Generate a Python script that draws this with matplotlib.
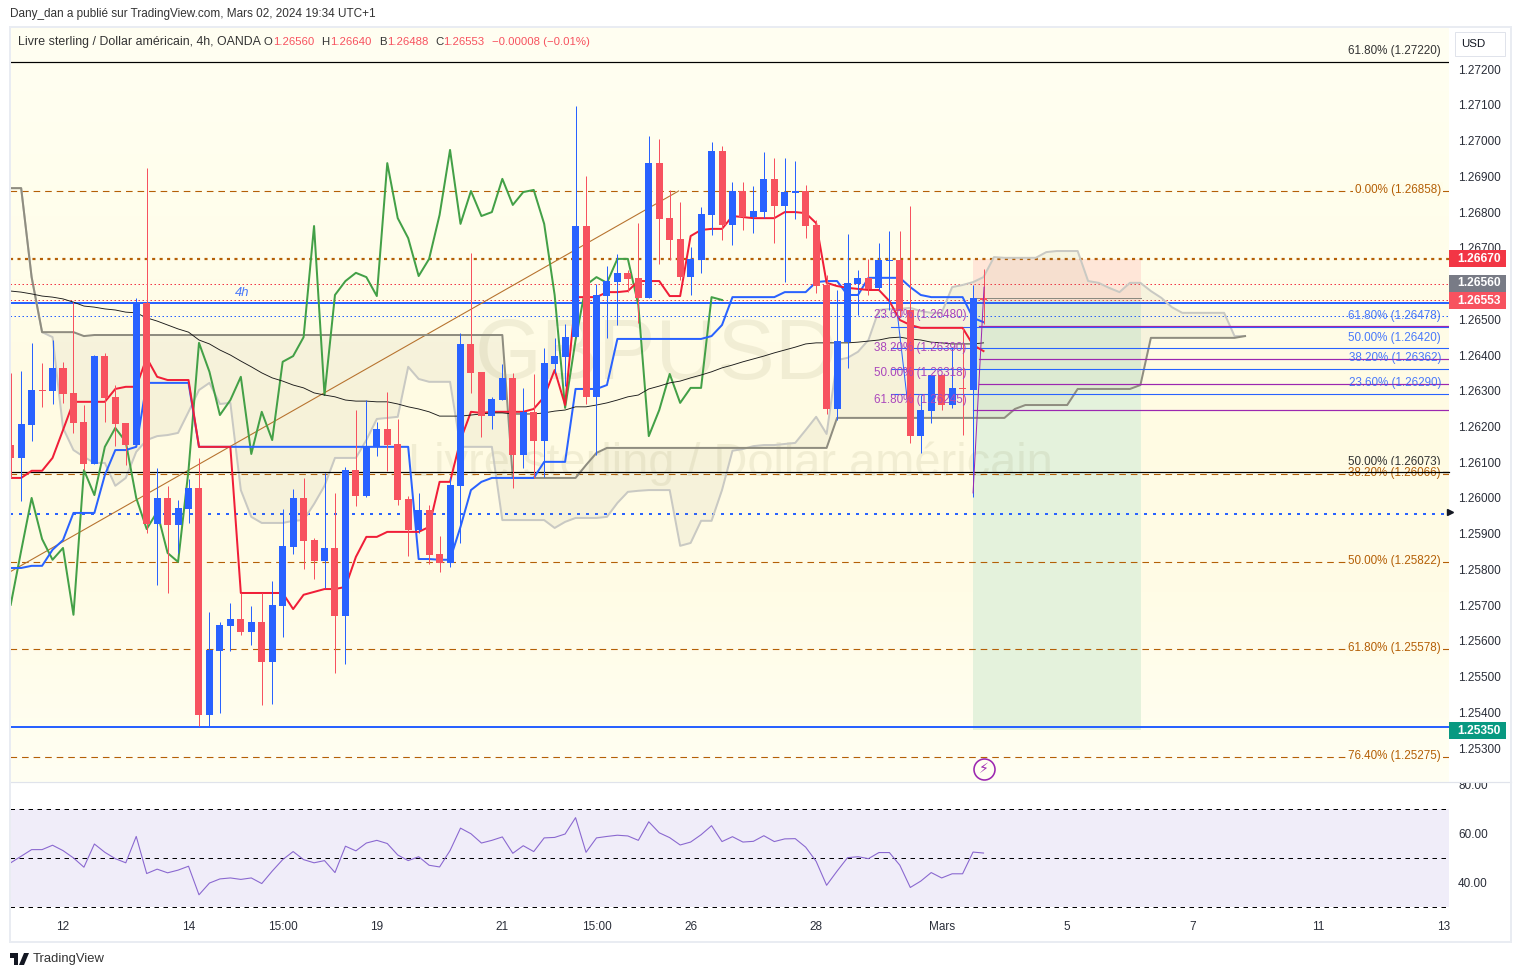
import numpy as np
import matplotlib
matplotlib.use('Agg')
import matplotlib.pyplot as plt
from matplotlib.patches import Rectangle, FancyBboxPatch, Polygon
from matplotlib.colors import LinearSegmentedColormap

plt.rcParams['font.family'] = ['Liberation Sans', 'DejaVu Sans']

#candles, 4h bars
opens = [1.26148, 1.26112, 1.26204, 1.26302, 1.26299, 1.26364, 1.26294, 1.26213, 1.26095, 1.26397,
         1.26283, 1.26210, 1.26148, 1.26546, 1.25927, 1.26000, 1.25924, 1.25969, 1.26028, 1.25393,
         1.25572, 1.25642, 1.25661, 1.25625, 1.25653, 1.25541, 1.25698, 1.25863, 1.26000, 1.25882,
         1.25824, 1.25860, 1.25670, 1.26078, 1.26006, 1.26143, 1.26193, 1.26151, 1.25997, 1.25910,
         1.25966, 1.25843, 1.25818, 1.26034, 1.26431, 1.26353, 1.26229, 1.26274, 1.26336, 1.26120,
         1.26241, 1.26159, 1.26375, 1.26395, 1.26450, 1.26761, 1.26283, 1.26565, 1.26604, 1.26630,
         1.26616, 1.26560, 1.26937, 1.26783, 1.26725, 1.26618, 1.26666, 1.26792, 1.26971, 1.26764,
         1.26859, 1.26786, 1.26800, 1.26893, 1.26817, 1.26853, 1.26859, 1.26764, 1.26596, 1.26249,
         1.26436, 1.26599, 1.26616, 1.26588, 1.26663, 1.26666, 1.26526, 1.26173, 1.26243, 1.26344,
         1.26260, 1.26308, 1.26302, 1.26560]
highs = [1.26350, 1.26355, 1.26434, 1.26378, 1.26442, 1.26381, 1.26548, 1.26260, 1.26400, 1.26406,
         1.26316, 1.26210, 1.26560, 1.26923, 1.26084, 1.26034, 1.25994, 1.26053, 1.26112, 1.25681,
         1.25653, 1.25706, 1.25734, 1.25698, 1.25734, 1.25768, 1.25969, 1.26025, 1.26056, 1.25888,
         1.26070, 1.26014, 1.26087, 1.26246, 1.26274, 1.26213, 1.26297, 1.26221, 1.26006, 1.26014,
         1.25980, 1.25894, 1.26059, 1.26462, 1.26686, 1.26353, 1.26283, 1.26375, 1.26350, 1.26308,
         1.26347, 1.26420, 1.26448, 1.26487, 1.27097, 1.26901, 1.26599, 1.26649, 1.26683, 1.26638,
         1.26769, 1.27013, 1.27004, 1.26862, 1.26828, 1.26702, 1.26814, 1.26996, 1.26985, 1.26884,
         1.26884, 1.26873, 1.26968, 1.26951, 1.26951, 1.26943, 1.26876, 1.26778, 1.26624, 1.26582,
         1.26739, 1.26638, 1.26669, 1.26713, 1.26747, 1.26747, 1.26817, 1.26288, 1.26344, 1.26344,
         1.26422, 1.26476, 1.26596, 1.26640]
lows = [1.26056, 1.25992, 1.26159, 1.26255, 1.26263, 1.26266, 1.26182, 1.26078, 1.26095, 1.26213,
        1.26145, 1.26092, 1.26148, 1.25902, 1.25757, 1.25734, 1.25846, 1.25930, 1.25362, 1.25362,
        1.25398, 1.25572, 1.25617, 1.25589, 1.25421, 1.25424, 1.25611, 1.25843, 1.25801, 1.25773,
        1.25748, 1.25510, 1.25536, 1.25978, 1.26003, 1.26118, 1.26076, 1.25980, 1.25838, 1.25902,
        1.25815, 1.25793, 1.25807, 1.25874, 1.26294, 1.26171, 1.26193, 1.26274, 1.26028, 1.26084,
        1.26056, 1.26059, 1.26350, 1.26313, 1.26450, 1.26263, 1.26120, 1.26448, 1.26484, 1.26576,
        1.26490, 1.26560, 1.26655, 1.26666, 1.26610, 1.26568, 1.26630, 1.26736, 1.26722, 1.26708,
        1.26750, 1.26741, 1.26783, 1.26713, 1.26604, 1.26781, 1.26727, 1.26574, 1.26235, 1.26218,
        1.26364, 1.26512, 1.26568, 1.26582, 1.26526, 1.26506, 1.26154, 1.26126, 1.26210, 1.26246,
        1.26252, 1.26176, 1.26003, 1.26488]
closes = [1.26112, 1.26207, 1.26302, 1.26299, 1.26364, 1.26291, 1.26210, 1.26095, 1.26397, 1.26280,
          1.26207, 1.26148, 1.26546, 1.25927, 1.26000, 1.25924, 1.25972, 1.26028, 1.25393, 1.25575,
          1.25645, 1.25661, 1.25625, 1.25653, 1.25541, 1.25701, 1.25866, 1.26000, 1.25880, 1.25824,
          1.25860, 1.25670, 1.26078, 1.26006, 1.26143, 1.26193, 1.26148, 1.25994, 1.25910, 1.25966,
          1.25841, 1.25818, 1.26036, 1.26431, 1.26350, 1.26229, 1.26277, 1.26336, 1.26120, 1.26241,
          1.26159, 1.26378, 1.26397, 1.26450, 1.26761, 1.26283, 1.26568, 1.26607, 1.26630, 1.26613,
          1.26560, 1.26937, 1.26781, 1.26722, 1.26618, 1.26669, 1.26795, 1.26971, 1.26764, 1.26859,
          1.26786, 1.26803, 1.26893, 1.26817, 1.26856, 1.26859, 1.26761, 1.26593, 1.26249, 1.26439,
          1.26602, 1.26616, 1.26585, 1.26666, 1.26666, 1.26523, 1.26173, 1.26246, 1.26344, 1.26260,
          1.26308, 1.26305, 1.26560, 1.26553]

#ichimoku lines
tenkan = [1.26056, 1.26056, 1.26076, 1.26076, 1.26112, 1.26190, 1.26269, 1.26269, 1.26269, 1.26269,
          1.26305, 1.26311, 1.26311, 1.26392, 1.26339, 1.26330, 1.26330, 1.26330, 1.26143, 1.26143,
          1.26143, 1.26143, 1.25734, 1.25734, 1.25734, 1.25734, 1.25734, 1.25689, 1.25729, 1.25737,
          1.25745, 1.25745, 1.25751, 1.25835, 1.25891, 1.25891, 1.25905, 1.25905, 1.25905, 1.25905,
          1.25919, 1.26045, 1.26045, 1.26162, 1.26241, 1.26238, 1.26241, 1.26241, 1.26241, 1.26241,
          1.26249, 1.26283, 1.26358, 1.26260, 1.26562, 1.26562, 1.26562, 1.26576, 1.26576, 1.26579,
          1.26607, 1.26607, 1.26607, 1.26565, 1.26565, 1.26733, 1.26750, 1.26753, 1.26753, 1.26789,
          1.26786, 1.26783, 1.26783, 1.26783, 1.26800, 1.26800, 1.26797, 1.26769, 1.26602, 1.26593,
          1.26588, 1.26585, 1.26582, 1.26582, 1.26551, 1.26498, 1.26484, 1.26476, 1.26476, 1.26476,
          1.26476, 1.26476, 1.26428, 1.26411]
kijun = [1.25804, 1.25804, 1.25810, 1.25810, 1.25855, 1.25882, 1.25958, 1.25958, 1.25958, 1.26064,
         1.26134, 1.26134, 1.26143, 1.26322, 1.26322, 1.26322, 1.26322, 1.26322] + [1.26143] * 21 + \
        [1.25829, 1.25829, 1.25827, 1.25827, 1.25919, 1.26022, 1.26045, 1.26056, 1.26056, 1.26056,
         1.26056, 1.26056, 1.26101, 1.26101, 1.26101, 1.26305, 1.26305, 1.26305, 1.26316] + [1.26445] * 9 + \
        [1.26453, 1.26484, 1.26562, 1.26562, 1.26562, 1.26562, 1.26562, 1.26576, 1.26576, 1.26576,
         1.26604, 1.26607, 1.26607, 1.26568, 1.26568, 1.26616, 1.26616, 1.26616, 1.26616, 1.26590,
         1.26568, 1.26562, 1.26562, 1.26562, 1.26562, 1.26504, 1.26492]
chikou = [1.25701, 1.25852, 1.26000, 1.25885, 1.25827, 1.25860, 1.25673, 1.26078, 1.26008, 1.26143,
          1.26196, 1.26157, 1.26000, 1.25913, 1.25961, 1.25846, 1.25821, 1.26078, 1.26434, 1.26353,
          1.26232, 1.26274, 1.26339, 1.26123, 1.26241, 1.26162, 1.26381, 1.26397, 1.26450, 1.26761,
          1.26288, 1.26568, 1.26607, 1.26630, 1.26618, 1.26565, 1.26937, 1.26783, 1.26727, 1.26621,
          1.26669, 1.26792, 1.26974, 1.26767, 1.26859, 1.26789, 1.26800, 1.26893, 1.26820, 1.26856,
          1.26862, 1.26767, 1.26568, 1.26252, 1.26442, 1.26596, 1.26618, 1.26602, 1.26669, 1.26669,
          1.26540, 1.26173, 1.26246, 1.26347, 1.26266, 1.26308, 1.26308, 1.26562, 1.26554]
span_b = [1.26867, 1.26867, 1.26618, 1.26464, 1.26464, 1.26464, 1.26464, 1.26453] + [1.26456] * 40 + \
         [1.26056] * 7 + [1.26092, 1.26126] + [1.26140] * 22 + [1.26224] * 17 + [1.26249] + \
         [1.26260] * 5 + [1.26305] * 6 + [1.26316] + [1.26448] * 9 + [1.26453]
span_a = [1.26867, 1.26867, 1.26618, 1.26464, 1.26450, 1.26196, 1.26134, 1.26115, 1.26098, 1.26098,
          1.26034, 1.26056, 1.26129, 1.26162, 1.26173, 1.26176, 1.26182, 1.26241, 1.26302, 1.26322,
          1.26263, 1.26266, 1.26022, 1.25947, 1.25930, 1.25930, 1.25930, 1.25936, 1.25938, 1.25983,
          1.26034, 1.26112, 1.26112, 1.26112, 1.26162, 1.26221, 1.26224, 1.26227, 1.26367, 1.26333,
          1.26325, 1.26325, 1.26325, 1.26143, 1.26143, 1.26143, 1.26143, 1.25938, 1.25938, 1.25938,
          1.25938, 1.25938, 1.25916, 1.25933, 1.25944, 1.25944, 1.25944, 1.25947, 1.25986, 1.26017,
          1.26020, 1.26022, 1.26022, 1.26022, 1.25866, 1.25874, 1.25936, 1.25936, 1.26022, 1.26132,
          1.26137, 1.26145, 1.26148, 1.26148, 1.26151, 1.26154, 1.26190, 1.26227, 1.26179, 1.26386,
          1.26392, 1.26409, 1.26442, 1.26526, 1.26529, 1.26529, 1.26532, 1.26523, 1.26518, 1.26518,
          1.26590, 1.26596, 1.26604, 1.26618, 1.26674, 1.26672, 1.26672, 1.26672, 1.26672, 1.26688,
          1.26691, 1.26691, 1.26691, 1.26607, 1.26602, 1.26588, 1.26576, 1.26602, 1.26602, 1.26579,
          1.26560, 1.26534, 1.26518, 1.26518, 1.26518, 1.26518, 1.26518, 1.26453, 1.26453]

#moving average
ema = [1.26579, 1.26576, 1.26571, 1.26565, 1.26562, 1.26557, 1.26548, 1.26537, 1.26534, 1.26529,
       1.26526, 1.26520, 1.26518, 1.26504, 1.26495, 1.26484, 1.26473, 1.26464, 1.26442, 1.26431,
       1.26414, 1.26400, 1.26383, 1.26367, 1.26350, 1.26336, 1.26327, 1.26316, 1.26308, 1.26294,
       1.26288, 1.26283, 1.26274, 1.26271, 1.26271, 1.26269, 1.26269, 1.26263, 1.26255, 1.26249,
       1.26241, 1.26229, 1.26229, 1.26229, 1.26232, 1.26235, 1.26238, 1.26238, 1.26235, 1.26235,
       1.26235, 1.26238, 1.26243, 1.26246, 1.26255, 1.26255, 1.26260, 1.26266, 1.26274, 1.26283,
       1.26288, 1.26305, 1.26313, 1.26322, 1.26327, 1.26336, 1.26344, 1.26353, 1.26364, 1.26372,
       1.26381, 1.26389, 1.26397, 1.26406, 1.26414, 1.26422, 1.26431, 1.26434, 1.26434, 1.26434,
       1.26434, 1.26436, 1.26439, 1.26442, 1.26448, 1.26450, 1.26445, 1.26442, 1.26436, 1.26434,
       1.26431, 1.26431, 1.26431, 1.26434]

rsi = [48.0, 50.7, 53.4, 53.4, 55.2, 53.0, 50.0, 46.2, 55.7, 52.3, 49.7, 48.0, 58.8, 43.6, 45.4, 43.9,
       45.0, 46.6, 34.9, 39.7, 41.4, 41.8, 41.2, 41.8, 39.5, 44.6, 49.3, 52.6, 49.3, 48.0, 48.9, 44.0,
       54.8, 52.9, 56.1, 57.2, 55.9, 51.2, 48.9, 50.5, 47.0, 46.3, 53.0, 62.2, 59.9, 56.1, 57.2, 58.6,
       51.9, 55.0, 52.6, 58.2, 58.4, 59.8, 66.5, 52.3, 58.2, 58.8, 59.3, 59.0, 57.2, 64.8, 60.3, 58.3,
       55.3, 56.5, 59.5, 63.2, 56.7, 58.7, 56.5, 56.8, 59.1, 56.7, 57.8, 57.9, 54.4, 48.6, 38.8, 44.6,
       50.1, 50.5, 49.7, 52.2, 52.2, 47.0, 37.9, 40.5, 44.0, 41.8, 43.5, 43.5, 52.4, 52.0]

#axis labels
time_ticks = [5, 17, 26, 35, 47, 56, 65, 77, 89, 101, 113, 125, 137]
time_labels = ['12', '14', '15:00', '19', '21', '15:00', '26', '28', 'Mars', '5', '7', '11', '13']
price_ticks = [1.253, 1.254, 1.255, 1.256, 1.257, 1.258, 1.259, 1.260, 1.261, 1.262,
               1.263, 1.264, 1.265, 1.266, 1.267, 1.268, 1.269, 1.270, 1.271, 1.272]
rsi_ticks = [40, 60, 80]

#fibonacci levels and drawings
fib_blue = [1.26478, 1.26420, 1.26362, 1.26290]
fib_blue_labels = ['61.80% (1.26478)', '50.00% (1.26420)', '38.20% (1.26362)', '23.60% (1.26290)']
fib_purple = [1.26480, 1.26390, 1.26318, 1.26245]
fib_purple_labels = ['23.60% (1.26480)', '38.20% (1.26390)', '50.00% (1.26318)', '61.80% (1.26245)']
fib_orange = [1.26858, 1.26066, 1.25822, 1.25578, 1.25275]
fib_orange_labels = ['0.00% (1.26858)', '38.20% (1.26066)', '50.00% (1.25822)',
                     '61.80% (1.25578)', '76.40% (1.25275)']
fib_black = [1.27220, 1.26073]
fib_black_labels = ['61.80% (1.27220)', '50.00% (1.26073)']
trend_x = [-0.07, 63.85]
trend_y = [1.25793, 1.26859]
stop_price = 1.26670
entry_price = 1.26553
target_price = 1.25351
last_open = 1.26560

W, H = 1521, 977
BLUE = '#2962FF'
RED = '#F7525F'
LINE_RED = '#F01E38'
ORANGE = '#B45F06'
PURPLE = '#9C27B0'
px = 0.72  #one pixel in points
x_left, x_right = -0.067, 137.5


def fx(x):
    return x / W


def fy(y):
    return 1 - y / H


def add_axes(left, top, right, bottom):
    return fig.add_axes([fx(left), fy(bottom), (right - left) / W, (bottom - top) / H])


fig = plt.figure(figsize=(W / 100, H / 100), dpi=100, facecolor='white')

#main pane
ax = add_axes(10, 27, 1449, 782)
ax.set_xlim(x_left, x_right)
ax.set_ylim(1.25205, 1.27318)
for s in ax.spines.values():
    s.set_visible(False)

bg = LinearSegmentedColormap.from_list('bg', ['#FFFFF2', '#FFFEEC', '#FFFBE3', '#FFFCE6', '#FFFFF3'])
ax.imshow(np.linspace(0, 1, 256).reshape(-1, 1), cmap=bg, aspect='auto', zorder=0,
          extent=[x_left, x_right, 1.25205, 1.27318], origin='upper')

#risk reward box
ax.add_patch(Rectangle((92.0, entry_price), 16.05, stop_price - entry_price, fc='#FFE6D8', ec='none', zorder=1))
ax.add_patch(Rectangle((92.0, target_price), 16.05, entry_price - target_price, fc='#E4F2DC', ec='none', zorder=1))
ax.plot([92.0, 108.05], [last_open, last_open], color='#8A8A80', lw=1 * px, zorder=2.6)

#watermark, shows through the box
ax.text(61.7, 1.26395, 'GBPUSD', fontsize=86 * px, color='#6E6A30', alpha=0.09, ha='center', va='center', zorder=1.5)
ax.text(68.8, 1.26095, 'Livre sterling / Dollar américain', fontsize=47 * px, color='#6E6A30', alpha=0.09,
        ha='center', va='center', zorder=1.5)

#horizontal levels
ax.axhline(1.26670, color=ORANGE, lw=2.2 * px, ls=(0, (1.4, 2.0)), zorder=2)
ax.axhline(1.26599, color='#F23645', lw=1 * px, ls=(0, (1.5, 2.5)), zorder=2)
ax.axhline(entry_price, color='#F23645', lw=1 * px, ls=(0, (1.5, 2.5)), zorder=2)
ax.axhline(1.26546, color=BLUE, lw=2 * px, zorder=2)
ax.axhline(1.26509, color=BLUE, lw=1 * px, ls=(0, (1.5, 2.5)), zorder=2)
ax.axhline(1.25954, color=BLUE, lw=2 * px, ls=(0, (1.5, 3.0)), zorder=2)
ax.axhline(1.25359, color=BLUE, lw=2 * px, zorder=2)
for level in fib_orange:
    ax.axhline(level, color=ORANGE, lw=1.1 * px, ls=(0, (6, 4.5)), zorder=2)

ax.plot(trend_x, trend_y, color='#B7732F', lw=1.1 * px, zorder=2.5)

#cloud
xc = np.arange(len(span_a))
ax.fill_between(xc, span_a, span_b, color='#8A8A60', alpha=0.075, lw=0, zorder=2.2)
ax.plot(xc, span_a, color='#C9C9C3', lw=2 * px, zorder=2.4)
ax.plot(xc, span_b, color='#8F8D80', lw=2 * px, zorder=2.5)

#indicator lines
ax.plot(np.arange(len(chikou)), chikou, color='#43A047', lw=2 * px, zorder=3)
ax.plot(np.arange(len(kijun)), kijun, color=BLUE, lw=2 * px, zorder=3.1)
ax.plot(np.arange(len(tenkan)), tenkan, color=LINE_RED, lw=2 * px, zorder=3.2)
ax.plot(np.arange(len(ema)), ema, color='#1A1A1A', lw=0.9 * px, zorder=3.3)

#fib drawings
for level in fib_blue:
    ax.plot([84.2, x_right], [level, level], color=BLUE, lw=1.1 * px, zorder=2.7)
for i, level in enumerate(fib_purple):
    start = 92.0 if i == 3 else 92.6
    ax.plot([start, x_right], [level, level], color=PURPLE, lw=1.2 * px, zorder=2.8)
ax.plot([84.8, 85.9], [1.26506, 1.26227], color=BLUE, lw=1 * px, zorder=3.4)

#candles
for i in range(len(opens)):
    col = BLUE if closes[i] > opens[i] else RED
    ax.vlines(i, lows[i], highs[i], color=col, lw=1 * px, zorder=4)
    bottom = min(opens[i], closes[i])
    height = max(abs(closes[i] - opens[i]), 0.00004)
    ax.bar(i, height, bottom=bottom, width=0.67, color=col, lw=0, zorder=4.1)

ax.plot([92.0, 93.05], [1.26014, 1.26590], color=PURPLE, lw=1 * px, zorder=4.5)

#labels on the levels
blue_y = [316, 338, 358, 383]
for lab, y in zip(fib_blue_labels, blue_y):
    fig.text(fx(1441), fy(y), lab, color=BLUE, fontsize=11.6 * px, ha='right', va='center', alpha=0.85, zorder=2)
purple_y = [315, 348, 373, 400]
for lab, y in zip(fib_purple_labels, purple_y):
    fig.text(fx(874), fy(y), lab, color='#AB47BC', fontsize=11.6 * px, ha='left', va='center', zorder=2)
black_y = [51, 462]
for lab, y in zip(fib_black_labels, black_y):
    fig.text(fx(1441), fy(y), lab, color='#333333', fontsize=11.6 * px, ha='right', va='center', zorder=2)
orange_y = [190, 473, 561, 648, 756]
orange_bg = ['#FFFDE9', '#FFFBE4', '#FFFBE5', '#FFFCE7', '#FFFEF0']
for lab, y, b in zip(fib_orange_labels, orange_y, orange_bg):
    fig.text(fx(1441), fy(y), lab, color=ORANGE, fontsize=11.6 * px, ha='right', va='center', zorder=2,
             bbox=dict(fc=b, ec='none', pad=1.5))
for level in fib_black:
    ax.plot([x_left, x_right], [level, level], color='black', lw=1.2 * px, zorder=2.9)
#the lower black level stays visible over the orange label
fig.add_artist(plt.Line2D([fx(1345), fx(1449)], [fy(471.8), fy(471.8)], color='black', lw=1.2 * px, zorder=2.5))

ax.text(22.1, 1.26556, '4h', color=BLUE, fontsize=13 * px, style='italic', ha='center', va='bottom', zorder=3, alpha=0.85)

#lightning marker
ax.plot([93], [1.25242], marker='o', ms=21 * px, mfc='none', mec=PURPLE, mew=1.6 * px, zorder=5, clip_on=False)
ax.text(93, 1.25242, '\u26a1', color=PURPLE, fontsize=14 * px, family='DejaVu Sans', ha='center', va='center', zorder=5)
ax.plot([x_right + 0.14], [1.25962], marker='>', ms=6 * px, color='#131722', zorder=5, clip_on=False)

ax.set_xticks([])
ax.yaxis.tick_right()
ax.set_yticks(price_ticks)
ax.set_yticklabels(['%.5f' % p for p in price_ticks], fontsize=11.7 * px, color='#2A2E39')
ax.tick_params(axis='y', length=0, pad=6.5)

#rsi pane
ax2 = add_axes(10, 782, 1449, 917)
ax2.set_xlim(x_left, x_right)
ax2.set_ylim(25.8, 81.1)
for s in ax2.spines.values():
    s.set_visible(False)
ax2.axhspan(30, 70, color='#F0EDF9', lw=0, zorder=1)
for lev in [70, 50, 30]:
    ax2.axhline(lev, color='black', lw=1 * px, ls=(0, (4.5, 4.5)), zorder=2)
ax2.plot(np.arange(len(rsi)), rsi, color='#8A68D0', lw=1.1 * px, zorder=3)
ax2.yaxis.tick_right()
ax2.set_yticks(rsi_ticks)
ax2.set_yticklabels(['%.2f' % v for v in rsi_ticks], fontsize=11.7 * px, color='#2A2E39')
ax2.tick_params(axis='y', length=0, pad=6.5)
ax2.set_xticks(time_ticks)
ax2.set_xticklabels(time_labels, fontsize=11.7 * px, color='#2A2E39')
ax2.tick_params(axis='x', length=0, pad=3)

#frame, cuts the 80.00 label at the pane border
fig.add_artist(Rectangle((fx(1449), fy(782)), 62 / W, 12 / H, transform=fig.transFigure, fc='white', ec='none', zorder=4))
fig.add_artist(plt.Line2D([fx(10), fx(1511)], [fy(782), fy(782)], color='#E0E3EB', lw=1.2 * px, zorder=4.1))
fig.add_artist(Rectangle((fx(10), fy(942)), 1501 / W, 915 / H, transform=fig.transFigure, fc='none', ec='#E9ECF2',
                         lw=2 * px, zorder=4.2))


def tag(y0, y1, text, col):
    fig.add_artist(FancyBboxPatch((fx(1449), fy(y1)), 57 / W, (y1 - y0) / H, transform=fig.transFigure,
                                  boxstyle='square,pad=0', fc=col, ec='none', zorder=5))
    fig.text(fx(1479), fy((y0 + y1) / 2), text, color='white', fontsize=12 * px, fontweight='bold',
             ha='center', va='center', zorder=6)


tag(250, 267, '1.26670', '#F23645')
tag(275, 292, '1.26560', '#787B86')
tag(292, 309, '1.26553', '#F7525F')
tag(722, 739, '1.25350', '#089981')

#currency box
fig.add_artist(FancyBboxPatch((fx(1455), fy(56)), 50 / W, 24 / H, transform=fig.transFigure,
                              boxstyle='square,pad=0', fc='white', ec='#E0E3EB', lw=1 * px, zorder=5))
fig.text(fx(1473), fy(44), 'USD', color='#131722', fontsize=11.5 * px, ha='center', va='center', zorder=6)

#header and legend
fig.text(fx(10), fy(14), 'Dany_dan a publié sur TradingView.com, Mars 02, 2024 19:34 UTC+1', color='#333333',
         fontsize=11.7 * px, ha='left', va='center')
fig.text(fx(18), fy(42), 'Livre sterling / Dollar américain, 4h, OANDA', color='#333333', fontsize=12.4 * px,
         ha='left', va='center', zorder=6)
legend_items = [(264, 'O', '#333333'), (273, '1.26560', RED), (321, 'H', '#333333'), (330, '1.26640', RED),
                (379, 'B', '#333333'), (387, '1.26488', RED), (435, 'C', '#333333'), (443, '1.26553', RED),
                (492, '\u22120.00008 (\u22120.01%)', RED)]
for x, s, c in legend_items:
    fig.text(fx(x), fy(42), s, color=c, fontsize=11.4 * px, ha='left', va='center', zorder=6)

#footer logo
fig.add_artist(Polygon([(fx(10), fy(953)), (fx(18), fy(953)), (fx(18), fy(965)), (fx(14), fy(965)),
                        (fx(14), fy(958)), (fx(10), fy(958))], transform=fig.transFigure, fc='#131722', ec='none'))
fig.add_artist(Polygon([(fx(24), fy(953)), (fx(29), fy(953)), (fx(24), fy(965)), (fx(19), fy(965))],
                       transform=fig.transFigure, fc='#131722', ec='none'))
fig.text(fx(33), fy(959), 'TradingView', color='#333333', fontsize=13 * px, ha='left', va='center')

fig.savefig('out.png', dpi=100)
